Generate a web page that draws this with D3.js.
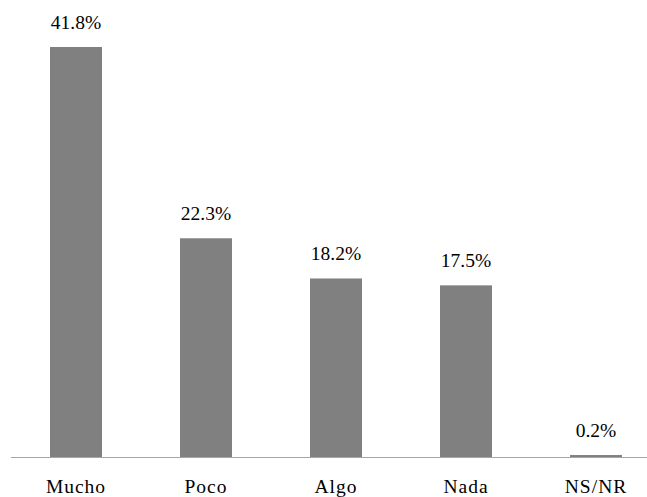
<!DOCTYPE html>
<html>
<head>
<meta charset="utf-8">
<script src="https://cdn.jsdelivr.net/npm/d3@7/dist/d3.min.js"></script>
<style>
  html, body { margin: 0; padding: 0; background: #fff; overflow: hidden; }
</style>
</head>
<body>
<svg id="chart" width="647" height="497"></svg>
<script>
const categories = ["Mucho", "Poco", "Algo", "Nada", "NS/NR"];
const values = [41.8, 22.3, 18.2, 17.5, 0.2];
const valueLabels = ["41.8%", "22.3%", "18.2%", "17.5%", "0.2%"];

const FONT = "'Liberation Serif', 'Times New Roman', Times, serif";
const svg = d3.select("#chart");
const baseY = 457;

const x = d3.scaleBand()
  .domain(categories)
  .range([11, 661])
  .paddingInner(0.6)
  .paddingOuter(0.3);

const y = d3.scaleLinear()
  .domain([0, 41.8])
  .range([baseY, 47]);

const data = categories.map((c, i) => ({ c, v: values[i], l: valueLabels[i] }));

svg.selectAll("rect.bar")
  .data(data)
  .enter().append("rect")
  .attr("class", "bar")
  .attr("x", d => x(d.c))
  .attr("y", d => y(d.v))
  .attr("width", x.bandwidth())
  .attr("height", d => baseY - y(d.v))
  .attr("fill", "#808080");

svg.append("line")
  .attr("x1", 11).attr("x2", 647)
  .attr("y1", baseY + 0.5).attr("y2", baseY + 0.5)
  .attr("stroke", "#a6a6a6")
  .attr("stroke-width", 1.2);

svg.selectAll("text.val")
  .data(data)
  .enter().append("text")
  .attr("class", "val")
  .attr("x", d => x(d.c) + x.bandwidth() / 2)
  .attr("y", d => y(d.v) - 18)
  .attr("text-anchor", "middle")
  .attr("font-family", FONT)
  .attr("font-size", 19.5)
  .attr("fill", "#000")
  .text(d => d.l);

svg.selectAll("text.cat")
  .data(data)
  .enter().append("text")
  .attr("class", "cat")
  .attr("x", d => x(d.c) + x.bandwidth() / 2)
  .attr("y", 493)
  .attr("text-anchor", "middle")
  .attr("font-family", FONT)
  .attr("font-size", 19.5)
  .attr("letter-spacing", "1px")
  .attr("fill", "#000")
  .text(d => d.c);
</script>
</body>
</html>
